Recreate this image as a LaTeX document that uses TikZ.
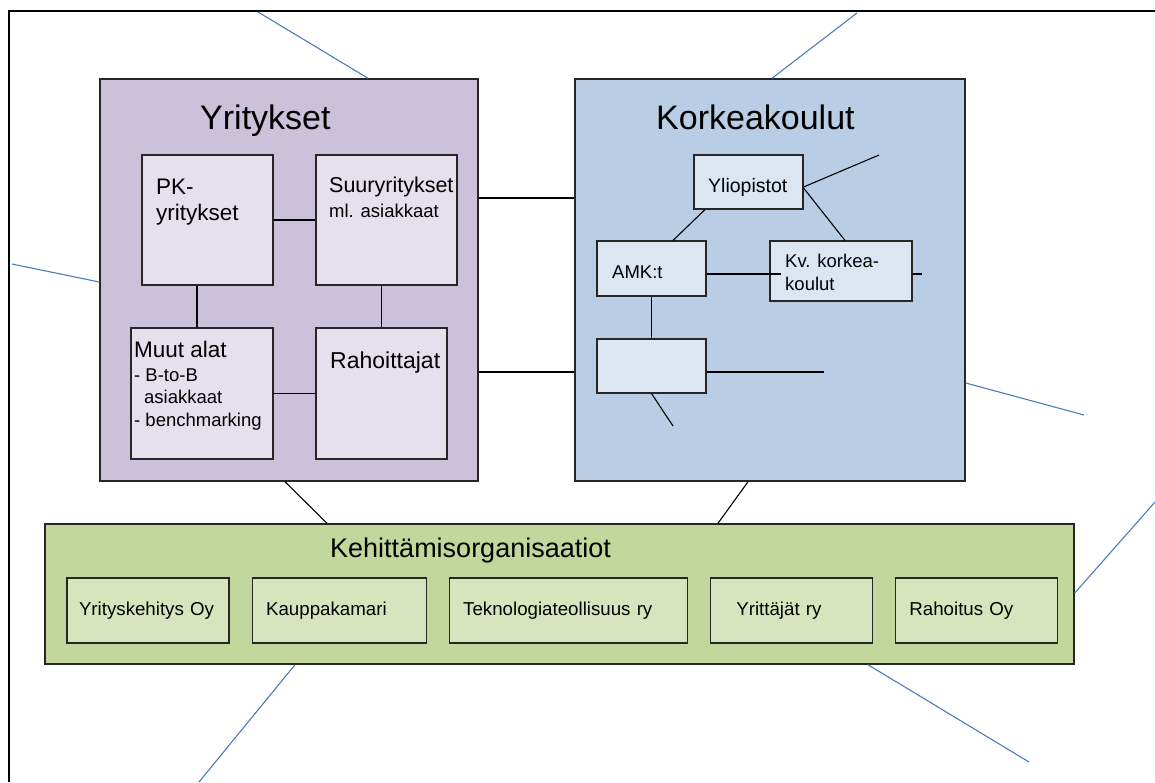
\documentclass[tikz,border=0pt]{standalone}
\usepackage{fontspec}
\setmainfont{Liberation Sans}
\usetikzlibrary{positioning}
\definecolor{yritfill}{HTML}{CCC1DA}
\definecolor{yritsub}{HTML}{E5E0EC}
\definecolor{korkfill}{HTML}{B9CDE5}
\definecolor{korksub}{HTML}{DCE6F2}
\definecolor{kehfill}{HTML}{C3D69B}
\definecolor{kehsub}{HTML}{D7E4BD}
\definecolor{linkblue}{HTML}{4A7EBB}

\begin{document}
\begin{tikzpicture}[x=1pt, y=-1pt,
    groupbox/.style={draw=black!85, line width=1.5pt, inner sep=0pt},
    unitbox/.style={draw=black!85, line width=1.1pt, inner sep=0pt},
    orgbox/.style={unitbox, fill=kehsub, minimum height=65pt, inner xsep=14pt,
      align=left, font=\fontsize{18.7}{22}\selectfont},
    txt/.style={inner sep=0pt, anchor=base west},
    link/.style={draw=black, line width=1.1pt},
    bluelink/.style={draw=linkblue, line width=1.1pt},
    titlefont/.style={font=\fontsize{34}{40}\selectfont},
    midfont/.style={font=\fontsize{22.5}{26}\selectfont},
    smallfont/.style={font=\fontsize{18.5}{22}\selectfont}]
      \useasboundingbox (0,0) rectangle (1155,782);
      \draw[line width=2.2pt] (9,782) -- (9,11) -- (1155,11);

      \node[groupbox, fill=yritfill, minimum width=378pt, minimum height=402pt] (yrit) at (289,280) {};
      \node[groupbox, fill=korkfill, minimum width=390pt, minimum height=402pt] (kork) at (770,280) {};
      \node[groupbox, fill=kehfill, minimum width=1029pt, minimum height=140pt] (keh) at (559.5,594) {};

      \coordinate (b1) at (258,12);
      \coordinate (b2) at (857,13);
      \coordinate (b3) at (12,264);
      \coordinate (b4) at (1084,415);
      \coordinate (b5) at (1155,502);
      \coordinate (b6) at (1029,762);
      \coordinate (b7) at (199,782);
      \draw[bluelink] (b1) -- (yrit.north -| 368,0);
      \draw[bluelink] (b2) -- (kork.north -| 772,0);
      \draw[bluelink] (b3) -- (yrit.west |- 0,282);
      \draw[bluelink] (kork.east |- 0,383) -- (b4);
      \draw[bluelink] (keh.east |- 0,593) -- (b5);
      \draw[bluelink] (keh.south -| 868,0) -- (b6);
      \draw[bluelink] (keh.south -| 295,0) -- (b7);

      \draw[link] (yrit.east |- 0,198) -- (kork.west |- 0,198);
      \draw[link] (yrit.east |- 0,372) -- (kork.west |- 0,372);
      \draw[link] (yrit.south -| 285,0) -- (keh.north -| 327,0);
      \draw[link] (kork.south -| 748,0) -- (keh.north -| 718,0);

      \node[txt, titlefont] (yrit-t) at (200,129) {Yritykset};
      \node[unitbox, fill=yritsub, minimum width=131pt, minimum height=130pt] (pk) at (207.5,220) {};
      \node[unitbox, fill=yritsub, minimum width=141pt, minimum height=130pt] (suur) at (386.5,220) {};
      \node[unitbox, fill=yritsub, minimum width=142pt, minimum height=131pt] (muut) at (202,393.5) {};
      \node[unitbox, fill=yritsub, minimum width=131pt, minimum height=131pt] (rah) at (381.5,393.5) {};
      \draw[link] (pk) -- (suur);
      \draw[link] (muut) -- (rah);
      \draw[link] (pk.south -| 197,0) -- (muut.north -| 197,0);
      \draw[link] (suur.south -| rah.north) -- (rah.north);
      \node[txt, midfont] (pk-a) at (156,194) {PK-};
      \node[txt, midfont] (pk-b) at (156,220) {yritykset};
      \node[txt, font=\fontsize{21.5}{26}\selectfont] (suur-a) at (329,192) {Suuryritykset};
      \node[txt, smallfont] (suur-b) at (329,217) {ml. asiakkaat};
      \node[txt, midfont] (muut-a) at (134,357) {Muut alat};
      \node[txt, smallfont] (muut-b) at (134,381) {- B-to-B};
      \node[txt, smallfont] (muut-c) at (144,403) {asiakkaat};
      \node[txt, smallfont] (muut-d) at (134,426) {- benchmarking};
      \node[txt, font=\fontsize{23}{27}\selectfont] (rah-t) at (330,368) {Rahoittajat};

      \node[txt, titlefont] (kork-t) at (656,129) {Korkeakoulut};
      \node[unitbox, fill=korksub, minimum width=109pt, minimum height=54pt] (yl) at (748.5,182) {};
      \node[unitbox, fill=korksub, minimum width=109pt, minimum height=55pt] (amk) at (651.5,268.5) {};
      \node[unitbox, fill=korksub, minimum width=142pt, minimum height=60pt] (kv) at (841,271) {};
      \node[unitbox, fill=korksub, minimum width=109pt, minimum height=54pt] (muu) at (651.5,366) {};
      \coordinate (yl-end) at (879,155);
      \coordinate (amk-end) at (781,274);
      \coordinate (kv-end) at (922,274);
      \coordinate (muu-end) at (824,372);
      \coordinate (muu-tail) at (673,426);
      \draw[link] (yl.east |- 0,187) -- (yl-end);
      \draw[link] (yl.east |- 0,188) -- (kv.north -| 845,0);
      \draw[link] (yl.south -| 705,0) -- (amk.north -| 673,0);
      \draw[link] (amk.east |- amk-end) -- (amk-end);
      \draw[link] (kv.east |- kv-end) -- (kv-end);
      \draw[link] (amk) -- (muu);
      \draw[link] (muu.east |- muu-end) -- (muu-end);
      \draw[link] (muu.south) -- (muu-tail);
      \node[txt, font=\fontsize{19.5}{23}\selectfont] (yl-t) at (708,192) {Yliopistot};
      \node[txt, smallfont] (amk-t) at (612,278) {AMK:t};
      \node[txt, smallfont] (kv-a) at (785,267) {Kv. korkea-};
      \node[txt, smallfont] (kv-b) at (785,290) {koulut};

      \node[txt, font=\fontsize{27}{32}\selectfont] (keh-t) at (330,557) {Kehittämisorganisaatiot};
      \node[orgbox, inner xsep=12pt, text width=138pt] (yk) at (148,610.5) {Yrityskehitys Oy};
      \node[orgbox, text width=146pt, right=22pt of yk] (kk) {Kauppakamari};
      \node[orgbox, text width=210pt, right=22pt of kk] (tek) {Teknologiateollisuus ry};
      \node[orgbox, inner xsep=26pt, text width=110pt, right=22pt of tek] (yr) {Yrittäjät ry};
      \node[orgbox, text width=134pt, right=22pt of yr] (rho) {Rahoitus Oy};
    \end{tikzpicture}
\end{document}
